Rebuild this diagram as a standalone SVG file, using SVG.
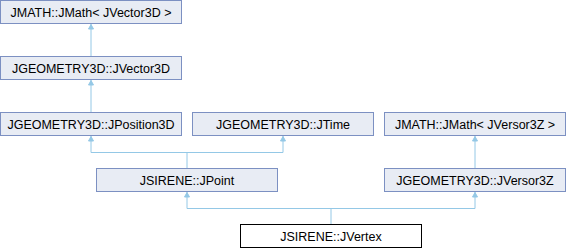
<svg xmlns="http://www.w3.org/2000/svg" width="566" height="248" viewBox="0 0 566 248">
<style>
.n rect{fill:#E8ECF4;stroke:#7C90C2;stroke-width:1}
.w rect{fill:#FFFFFF;stroke:#000000;stroke-width:1}
text{font-family:"Liberation Sans",Arial,sans-serif;font-size:12.5px;fill:#000;text-anchor:middle}
.e path{fill:none;stroke:#94C8E6;stroke-width:1}
.e polygon{fill:#94C8E6;stroke:#94C8E6;stroke-width:1}
</style>
<rect width="566" height="248" fill="#FFFFFF"/>
<g class="e" id="connectors">
<path d="M91,24V56"/><polygon points="91,24.5 88.5,29 93.5,29"/>
<path d="M91,80V112"/><polygon points="91,80.5 88.5,85 93.5,85"/>
<path d="M91,136V152.5H283V136"/><polygon points="91,136.5 88.5,141 93.5,141"/><polygon points="283,136.5 280.5,141 285.5,141"/>
<path d="M187,152.5V168"/>
<path d="M475,136V168"/><polygon points="475,136.5 472.5,141 477.5,141"/>
<path d="M187,192V208.5H475V192"/><polygon points="187,192.5 184.5,197 189.5,197"/><polygon points="475,192.5 472.5,197 477.5,197"/>
<path d="M331,208.5V224"/>
</g>
<g class="n" id="JMath_JVector3D"><rect x="0.5" y="0.5" width="181" height="23"/><text x="91" y="16.5">JMATH::JMath&lt; JVector3D &gt;</text></g>
<g class="n" id="JVector3D"><rect x="0.5" y="56.5" width="181" height="23"/><text x="91" y="72.5">JGEOMETRY3D::JVector3D</text></g>
<g class="n" id="JPosition3D"><rect x="0.5" y="112.5" width="181" height="23"/><text x="91" y="128.5">JGEOMETRY3D::JPosition3D</text></g>
<g class="n" id="JTime"><rect x="192.5" y="112.5" width="181" height="23"/><text x="283" y="128.5">JGEOMETRY3D::JTime</text></g>
<g class="n" id="JMath_JVersor3Z"><rect x="384.5" y="112.5" width="181" height="23"/><text x="475" y="128.5">JMATH::JMath&lt; JVersor3Z &gt;</text></g>
<g class="n" id="JPoint"><rect x="96.5" y="168.5" width="181" height="23"/><text x="187" y="184.5">JSIRENE::JPoint</text></g>
<g class="n" id="JVersor3Z"><rect x="384.5" y="168.5" width="181" height="23"/><text x="475" y="184.5">JGEOMETRY3D::JVersor3Z</text></g>
<g class="w" id="JVertex"><rect x="240.5" y="224.5" width="181" height="23"/><text x="331" y="240.5">JSIRENE::JVertex</text></g>
</svg>
